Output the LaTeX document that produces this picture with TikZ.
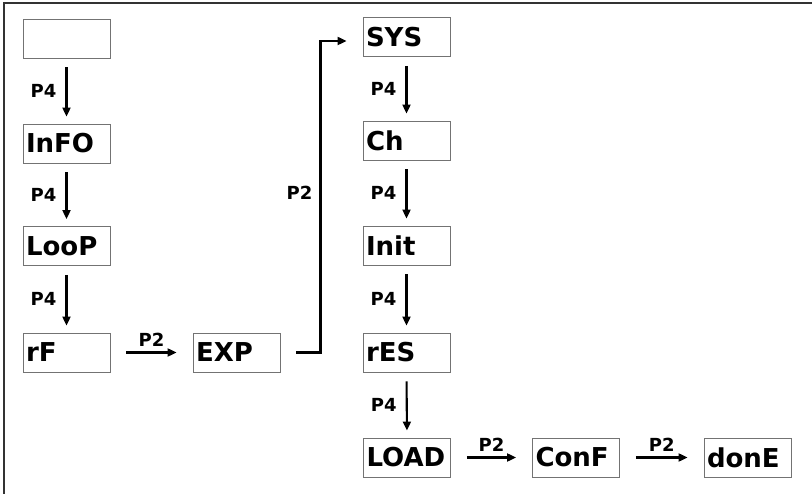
\documentclass[tikz,border=0pt]{standalone}
\usepackage{fontspec}
\setmainfont{DejaVu Sans}
\usetikzlibrary{arrows.meta}
\begin{document}
\begin{tikzpicture}[x=1pt,y=-1pt,
  box/.style={draw=black!55,line width=0.9pt,rectangle,minimum height=39pt,
    inner xsep=3pt,text width=81pt,align=left,font=\fontsize{26}{26}\selectfont\bfseries,anchor=center},
  arr/.style={line width=2.1pt,-{Triangle[length=9pt,width=8pt]}},
  vflow/.style={arr,shorten <=9pt,shorten >=7pt},
  hflow/.style={arr,shorten <=16pt,shorten >=16pt},
  lbl/.style={font=\fontsize{18}{18}\selectfont\bfseries,inner sep=1pt}]
\useasboundingbox (0,0) rectangle (812,494);
\draw[line width=1.6pt,black!80] (4,494) -- (4,3) -- (812,3);
% column 1
\node[box] (a0) at (66.5,38.5) {\strut};
\node[box] (a1) at (66.5,143.5) {InFO};
\node[box] (a2) at (66.5,246) {LooP};
\node[box] (a3) at (66.5,352.5) {rF};
\node[box] (exp) at (236.5,352.5) {EXP};
% column 3
\node[box] (b0) at (406.5,37) {SYS};
\node[box] (b1) at (406.5,140.5) {Ch};
\node[box] (b2) at (406.5,245.5) {Init};
\node[box] (b3) at (406.5,352.5) {rES};
\node[box] (b4) at (407,457.5) {LOAD};
\node[box] (c1) at (576,457.5) {ConF};
\node[box] (c2) at (747.5,457.5) {donE};
% vertical connectors
\foreach \u/\v in {a0/a1,a1/a2,a2/a3,b0/b1,b1/b2,b2/b3,b3/b4}{
  \draw[vflow] (\u.south) -- node[lbl,left=8pt] {P4} (\v.north);
}
% horizontal connectors
\draw[hflow] (a3.east) -- node[lbl,above=4pt] {P2} (exp.west);
\draw[hflow] (b4.east) -- node[lbl,above=4pt] {P2} (c1.west);
\draw[hflow] (c1.east) -- node[lbl,above=4pt] {P2} (c2.west);
% EXP to SYS
\coordinate (e1) at ([xshift=16pt]exp.east);
\coordinate (s1) at ([xshift=-16pt,yshift=-4pt]b0.west);
\draw[arr] (e1) -- ++(24,0) |- node[lbl,pos=0.257,left=6pt] {P2} (s1);
\end{tikzpicture}
\end{document}
